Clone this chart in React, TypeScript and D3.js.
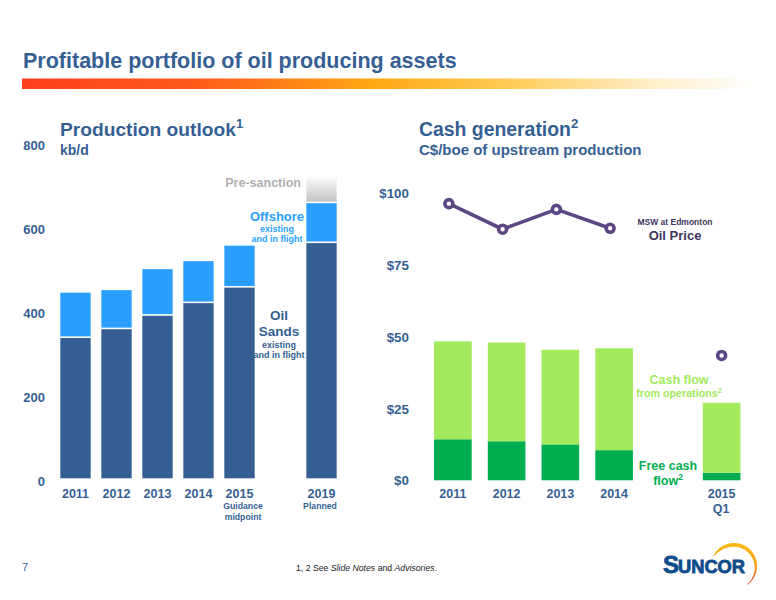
import React from 'react';
import * as d3 from 'd3';

const FONT = '"Liberation Sans", Arial, sans-serif';
const NAVY = '#355f93';
const SKY = '#2a9fff';
const LIME = '#a3ea5c';
const GREEN = '#00ad50';
const PURPLE = '#5b4783';

// production outlook, kb/d ("gap" is the empty slot before 2019)
const prodYears = ['2011', '2012', '2013', '2014', '2015', 'gap', '2019'];
const oilSands = [334, 355, 387, 417, 454, 0, 560];
const offshore = [108, 93, 111, 100, 100, 0, 95];
const preSanction = [0, 0, 0, 0, 0, 0, 67];
const prodTicks = [0, 200, 400, 600, 800];

// cash generation, C$/boe
const cashYears = ['2011', '2012', '2013', '2014', 'gap', '2015'];
const freeCash = [14.3, 13.6, 12.5, 10.5, 0, 2.6];
const cashOps = [34.1, 34.4, 33, 35.5, 0, 24.4];
const oilPrice = [96.4, 87.5, 94.4, 87.8];
const oilPriceQ1 = 43.5;
const cashTicks = [0, 25, 50, 75, 100];

const prodX = d3.scaleBand().domain(prodYears).range([55, 342]).paddingInner(0.26).paddingOuter(0.13);
const prodY = d3.scaleLinear().domain([0, 800]).range([478.3, 142.3]);
const cashX = d3.scaleBand().domain(cashYears).range([426, 748.5]).paddingInner(0.3).paddingOuter(0.15);
const cashY = d3.scaleLinear().domain([0, 100]).range([480.3, 193.3]);

const prodRows = prodYears.map((y, i) => ({ y, oil: oilSands[i], off: offshore[i], pre: preSanction[i] }));
const prodStack = d3.stack<any>().keys(['oil', 'off', 'pre'])(prodRows);
const cashRows = cashYears.map((y, i) => ({ y, free: freeCash[i], ops: cashOps[i] }));
const cashStack = d3.stack<any>().keys(['free', 'ops'])(cashRows);

const prodFill = [NAVY, SKY, 'url(#pre)'];
const cashFill = [GREEN, LIME];

// the price markers sit a little left of the bar centres in the original
const priceX = (i: number) => cashX(cashYears[i])! + cashX.bandwidth() / 2 - 4;
const priceLine = d3
  .line<number>()
  .x((_, i) => priceX(i))
  .y((d) => cashY(d));

// logo swoosh: a crescent, thick at the top and thin at both ends
const swooshStart = -1.13;
const swooshEnd = 2.55;
const swoosh = d3
  .areaRadial<number>()
  .angle((d) => d)
  .outerRadius(23)
  .innerRadius((d) => {
    const t = (d - swooshStart) / (swooshEnd - swooshStart);
    return 23 - (0.4 + 3.4 * Math.sin(Math.PI * Math.pow(t, 0.7)));
  })(d3.range(swooshStart, swooshEnd, 0.05))!;

const Sup = ({ children, size }: { children: string; size: number }) => (
  <tspan dy={-size * 0.4} fontSize={size * 0.68}>
    {children}
  </tspan>
);

export default function App() {
  return (
    <svg
      width={776}
      height={600}
      style={{ position: 'absolute', left: 0, top: 0, background: '#fff' }}
      fontFamily={FONT}
      fontWeight="bold"
    >
      <defs>
        <linearGradient id="rule" x1="0" x2="1" y1="0" y2="0">
          <stop offset="0" stopColor="#fb3f1c" />
          <stop offset="0.24" stopColor="#ff5a1a" />
          <stop offset="0.48" stopColor="#ffa812" />
          <stop offset="0.65" stopColor="#ffc94f" />
          <stop offset="0.86" stopColor="#ffeec8" />
          <stop offset="1" stopColor="#ffffff" />
        </linearGradient>
        <linearGradient id="pre" x1="0" x2="0" y1="0" y2="1">
          <stop offset="0" stopColor="#ffffff" />
          <stop offset="1" stopColor="#c4c4c4" />
        </linearGradient>
        <linearGradient id="logo" x1="0" x2="0" y1="0" y2="1">
          <stop offset="0" stopColor="#fdb913" />
          <stop offset="0.55" stopColor="#f7a11d" />
          <stop offset="1" stopColor="#e5402d" />
        </linearGradient>
      </defs>

      <text x={23} y={68} fontSize={21.5} fill={NAVY}>
        Profitable portfolio of oil producing assets
      </text>
      <rect x={22} y={78.5} width={733} height={10.5} fill="url(#rule)" />

      {/* left chart */}
      <text x={60} y={136} fontSize={19.2} fill={NAVY}>
        Production outlook<Sup size={19.2}>1</Sup>
      </text>
      <text x={60} y={155} fontSize={14} fill={NAVY}>
        kb/d
      </text>
      {prodTicks.map((t) => (
        <text key={t} x={45} y={prodY(t) + 7.5} fontSize={13} textAnchor="end" fill={NAVY}>
          {t}
        </text>
      ))}
      {prodStack.map((s, k) =>
        s.map((d, i) =>
          d[1] > d[0] ? (
            <rect
              key={`${k}-${i}`}
              x={prodX(prodYears[i])}
              y={prodY(d[1])}
              width={prodX.bandwidth()}
              height={prodY(d[0]) - prodY(d[1]) - (k === 0 ? 0 : 1.6)}
              fill={prodFill[k]}
            />
          ) : null,
        ),
      )}
      {prodYears
        .filter((y) => y !== 'gap')
        .map((y) => (
          <text key={y} x={prodX(y)! + prodX.bandwidth() / 2} y={498} fontSize={12.5} textAnchor="middle" fill={NAVY}>
            {y}
          </text>
        ))}
      <g fontSize={8.7} textAnchor="middle" fill={NAVY}>
        <text x={243} y={509}>Guidance</text>
        <text x={243} y={520}>midpoint</text>
        <text x={320} y={509}>Planned</text>
      </g>
      <text x={301} y={187} fontSize={12.5} textAnchor="end" fill="#b0b0b0">
        Pre-sanction
      </text>
      <g textAnchor="middle" fill={SKY}>
        <text x={277} y={221} fontSize={13}>Offshore</text>
        <text x={277} y={232} fontSize={9}>existing</text>
        <text x={277} y={242} fontSize={9}>and in flight</text>
      </g>
      <g textAnchor="middle" fill={NAVY}>
        <text x={279} y={320} fontSize={13.5}>Oil</text>
        <text x={279} y={336} fontSize={13.5}>Sands</text>
        <text x={279} y={348} fontSize={9}>existing</text>
        <text x={279} y={358} fontSize={9}>and in flight</text>
      </g>

      {/* right chart */}
      <text x={419} y={136} fontSize={19.4} fill={NAVY}>
        Cash generation<Sup size={19.4}>2</Sup>
      </text>
      <text x={419} y={155} fontSize={15} fill={NAVY}>
        C$/boe of upstream production
      </text>
      {cashTicks.map((t) => (
        <text key={t} x={409} y={cashY(t) + 5} fontSize={13.4} textAnchor="end" fill={NAVY}>
          {d3.format('$')(t)}
        </text>
      ))}
      {cashStack.map((s, k) =>
        s.map((d, i) =>
          d[1] > d[0] ? (
            <rect
              key={`${k}-${i}`}
              x={cashX(cashYears[i])}
              y={cashY(d[1])}
              width={cashX.bandwidth()}
              height={cashY(d[0]) - cashY(d[1])}
              fill={cashFill[k]}
            />
          ) : null,
        ),
      )}
      <path d={priceLine(oilPrice)!} fill="none" stroke={PURPLE} strokeWidth={3.6} />
      {oilPrice.map((v, i) => (
        <circle key={i} cx={priceX(i)} cy={cashY(v)} r={4} fill="#fff" stroke={PURPLE} strokeWidth={3.6} />
      ))}
      <circle
        cx={cashX('2015')! + cashX.bandwidth() / 2}
        cy={cashY(oilPriceQ1)}
        r={4}
        fill="#fff"
        stroke={PURPLE}
        strokeWidth={3.6}
      />
      {cashYears
        .filter((y) => y !== 'gap')
        .map((y) => (
          <text key={y} x={cashX(y)! + cashX.bandwidth() / 2} y={498} fontSize={12.5} textAnchor="middle" fill={NAVY}>
            {y}
          </text>
        ))}
      <text x={721} y={513} fontSize={12.5} textAnchor="middle" fill={NAVY}>
        Q1
      </text>
      <g textAnchor="middle" fill="#3e3560">
        <text x={675} y={225} fontSize={8.5}>MSW at Edmonton</text>
        <text x={675} y={240} fontSize={13}>Oil Price</text>
      </g>
      <g textAnchor="middle" fill={LIME}>
        <text x={679} y={384} fontSize={12.5}>Cash flow</text>
        <text x={679} y={397} fontSize={10.7}>
          from operations<Sup size={10.7}>2</Sup>
        </text>
      </g>
      <g textAnchor="middle" fill={GREEN} fontSize={12.5}>
        <text x={668} y={470}>Free cash</text>
        <text x={668} y={485}>
          flow<Sup size={12.5}>2</Sup>
        </text>
      </g>

      {/* footer */}
      <text x={22} y={571} fontSize={11} fontWeight="normal" fill={NAVY}>
        7
      </text>
      <text x={296} y={571} fontSize={8.7} fontWeight="normal" fill="#222">
        1, 2 See <tspan fontStyle="italic">Slide Notes</tspan> and <tspan fontStyle="italic">Advisories</tspan>.
      </text>
      <g>
        <path d={swoosh} transform="translate(734 566)" fill="url(#logo)" />
        <text x={663} y={573} fontSize={24} fill="#0f4c8a" stroke="#0f4c8a" strokeWidth={0.8}>
          S
        </text>
        <text x={678} y={573} fontSize={18.3} fill="#0f4c8a" stroke="#0f4c8a" strokeWidth={0.8}>
          UNCOR
        </text>
      </g>
    </svg>
  );
}
